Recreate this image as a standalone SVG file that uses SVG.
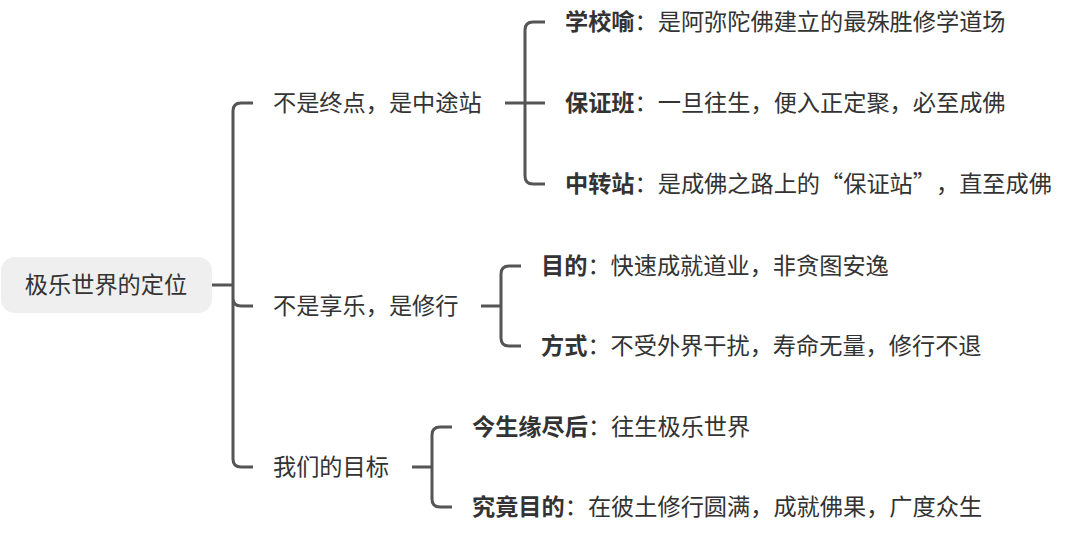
<svg xmlns="http://www.w3.org/2000/svg" width="1080" height="533" viewBox="0 0 1080 533">
<style>
text{font-family:"Noto Sans CJK SC","Noto Sans",sans-serif;font-size:23.2px;fill:#333;text-spacing-trim:space-all}
.b{font-weight:bold}
.c{fill:none;stroke:#555;stroke-width:3;stroke-linecap:butt;stroke-linejoin:round}
</style>
<rect width="1080" height="533" fill="#fff"/>
<g id="connectors">
<path class="c" d="M212 285H233"/>
<path class="c" d="M253 103H241Q233 103 233 111V459Q233 467 241 467H253M233 298Q233 306 241 306H253"/>
<path class="c" d="M505 103H545M525 103V30Q525 22 533 22H545M525 103V176Q525 184 533 184H545"/>
<path class="c" d="M481 306H501M521 266H509Q501 266 501 274V338Q501 346 509 346H521"/>
<path class="c" d="M412 467H432M452 427H440Q432 427 432 435V499Q432 507 440 507H452"/>
</g>
<g id="root">
<rect x="1" y="257" width="211" height="56" rx="14" fill="#efefef"/>
<text x="106" y="293" text-anchor="middle">极乐世界的定位</text>
</g>
<g id="n1"><text x="273" y="111">不是终点，是中途站</text></g>
<g id="n2"><text x="273" y="314">不是享乐，是修行</text></g>
<g id="n3"><text x="273" y="475">我们的目标</text></g>
<g id="n1a"><text x="565" y="30"><tspan class="b">学校喻</tspan>：是阿弥陀佛建立的最殊胜修学道场</text></g>
<g id="n1b"><text x="565" y="111"><tspan class="b">保证班</tspan>：一旦往生，便入正定聚，必至成佛</text></g>
<g id="n1c"><text x="565" y="192"><tspan class="b">中转站</tspan>：是成佛之路上的“保证站”，直至成佛</text></g>
<g id="n2a"><text x="541" y="274"><tspan class="b">目的</tspan>：快速成就道业，非贪图安逸</text></g>
<g id="n2b"><text x="541" y="354"><tspan class="b">方式</tspan>：不受外界干扰，寿命无量，修行不退</text></g>
<g id="n3a"><text x="472" y="435"><tspan class="b">今生缘尽后</tspan>：往生极乐世界</text></g>
<g id="n3b"><text x="472" y="515"><tspan class="b">究竟目的</tspan>：在彼土修行圆满，成就佛果，广度众生</text></g>
</svg>
